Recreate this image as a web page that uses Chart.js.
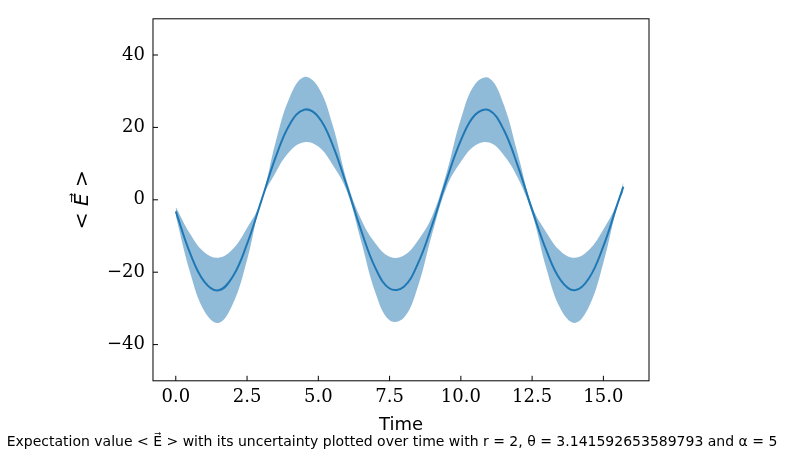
<!DOCTYPE html>
<html>
<head>
<meta charset="UTF-8">
<script src="https://cdn.jsdelivr.net/npm/chart.js"></script>
<style>
  body { margin: 0; background: #fff; }
  #wrap { width: 785px; height: 460px; }
</style>
</head>
<body>
<div id="wrap"><canvas id="c" width="785" height="460"></canvas></div>
<script>
// values
const times = [0, 0.5, 1, 1.5, 2, 2.5, 3, 3.5, 4, 4.5, 5, 5.5, 6, 6.5, 7, 7.5, 8, 8.5, 9, 9.5, 10, 10.5, 11, 11.5, 12, 12.5, 13, 13.5, 14, 14.5, 15, 15.5, 15.7];
const expectation = [-3.2, -14.7, -22.6, -25.0, -21.2, -12.2, -0.3, 11.7, 20.9, 24.9, 22.9, 15.2, 3.8, -8.4, -18.8, -24.5, -24.0, -17.5, -6.8, 5.5, 16.4, 23.5, 24.7, 19.4, 9.3, -2.8, -14.0, -22.2, -25.0, -21.6, -12.8, -1.0, 3.6];
const uncertainty = [1.2, 5.3, 8.1, 9.0, 7.6, 4.4, 0.1, 4.2, 7.5, 9.0, 8.2, 5.5, 1.4, 3.0, 6.8, 8.8, 8.6, 6.3, 2.4, 2.0, 5.9, 8.5, 8.9, 7.0, 3.3, 1.0, 5.0, 8.0, 9.0, 7.8, 4.6, 0.4, 1.3];
const xTicks = [0, 2.5, 5, 7.5, 10, 12.5, 15];
const yTicks = [-40, -20, 0, 20, 40];
const caption = 'Expectation value < E\u20D7 > with its uncertainty plotted over time with r = 2, \u03B8 = 3.141592653589793 and \u03B1 = 5';

const mid = times.map((t, i) => ({ x: t, y: expectation[i] }));
const lower = times.map((t, i) => ({ x: t, y: expectation[i] - uncertainty[i] }));
const upper = times.map((t, i) => ({ x: t, y: expectation[i] + uncertainty[i] }));

const serif = "'DejaVu Serif', serif";
const sans = "'DejaVu Sans', sans-serif";
const fmtNum = v => (v < 0 ? '\u2212' : '') + Math.abs(v);

// frame, inward ticks and caption like matplotlib
const framePlugin = {
    id: 'frame',
    afterDraw(chart) {
        const { ctx, chartArea: a, scales } = chart;
        ctx.save();
        ctx.strokeStyle = '#000';
        ctx.lineWidth = 1;
        ctx.strokeRect(a.left, a.top, a.right - a.left, a.bottom - a.top);
        ctx.beginPath();
        xTicks.forEach(v => {
            const px = scales.x.getPixelForValue(v);
            ctx.moveTo(px, a.bottom); ctx.lineTo(px, a.bottom - 5);
        });
        yTicks.forEach(v => {
            const py = scales.y.getPixelForValue(v);
            ctx.moveTo(a.left, py); ctx.lineTo(a.left + 5, py);
        });
        ctx.stroke();
        ctx.fillStyle = '#000';
        ctx.font = '14px ' + sans;
        ctx.textAlign = 'center';
        ctx.textBaseline = 'alphabetic';
        ctx.fillText(caption, 392, 446);
        ctx.restore();
    }
};

new Chart(document.getElementById('c'), {
    type: 'scatter',
    data: {
        datasets: [{
            data: lower,
            showLine: true,
            borderWidth: 0,
            pointRadius: 0,
            tension: 0.4,
            fill: false
        }, {
            data: upper,
            showLine: true,
            borderWidth: 0,
            pointRadius: 0,
            tension: 0.4,
            backgroundColor: 'rgba(31,119,180,0.5)',
            fill: '-1'
        }, {
            data: mid,
            showLine: true,
            borderColor: '#1f77b4',
            borderWidth: 2,
            pointRadius: 0,
            tension: 0.4
        }]
    },
    options: {
        responsive: false,
        animation: false,
        layout: { padding: { left: 67, right: 136, top: 3, bottom: 24 } },
        plugins: {
            legend: { display: false },
            tooltip: { enabled: false }
        },
        scales: {
            x: {
                type: 'linear',
                min: -0.8,
                max: 16.6,
                afterBuildTicks: axis => { axis.ticks = xTicks.map(v => ({ value: v })); },
                grid: { display: false, drawTicks: false },
                border: { display: false },
                ticks: { color: '#000', padding: 6, font: { family: serif, size: 18 }, callback: v => v.toFixed(1) },
                title: { display: true, text: 'Time', color: '#000', padding: 0, font: { family: sans, size: 18 } }
            },
            y: {
                min: -50,
                max: 50,
                afterBuildTicks: axis => { axis.ticks = yTicks.map(v => ({ value: v })); },
                grid: { display: false, drawTicks: false },
                border: { display: false },
                ticks: { color: '#000', padding: 8, font: { family: serif, size: 18 }, callback: fmtNum },
                title: { display: true, text: '< E\u20D7 >', color: '#000', padding: 4, font: { family: sans, size: 20, style: 'italic' } }
            }
        }
    },
    plugins: [framePlugin]
});
</script>
</body>
</html>
